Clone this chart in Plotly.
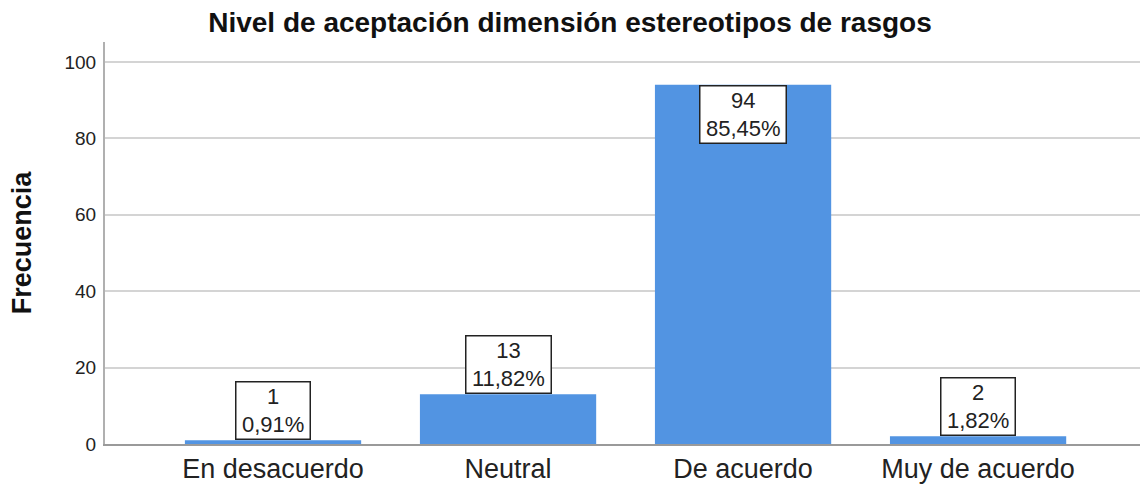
import plotly.graph_objects as go

categories = ["En desacuerdo", "Neutral", "De acuerdo", "Muy de acuerdo"]
counts = [1, 13, 94, 2]
percents = ["0,91%", "11,82%", "85,45%", "1,82%"]
y_ticks = [0, 20, 40, 60, 80, 100]

BAR_COLOR = "#5294E2"
FONT = "Liberation Sans, Arial, sans-serif"
TS = "&#8201;"  # thin space padding inside label boxes

fig = go.Figure()
fig.add_trace(go.Bar(
    x=categories, y=counts, marker=dict(color=BAR_COLOR, line=dict(width=0)),
    width=0.75, hoverinfo="skip",
))

for cat, c, p in zip(categories, counts, percents):
    inside = c > 50
    fig.add_annotation(
        x=cat, y=c, xref="x", yref="y",
        text=f"{TS}{c}{TS}<br>{TS}{p}{TS}", showarrow=False,
        yanchor="top" if inside else "bottom",
        font=dict(family=FONT, size=22, color="#222"),
        bgcolor="white", bordercolor="#222", borderwidth=1.5, borderpad=1,
        align="center",
    )

fig.update_layout(
    width=1140, height=485,
    margin=dict(l=105, r=0, t=42, b=41),
    paper_bgcolor="white", plot_bgcolor="white",
    showlegend=False,
    bargap=0.25,
    title=dict(text="<b>Nivel de aceptación dimensión estereotipos de rasgos</b>",
               x=0.5, xanchor="center", y=1 - 22 / 485, yanchor="middle",
               font=dict(family=FONT, size=28, color="#111")),
    xaxis=dict(
        type="category", range=[-0.715, 3.689], automargin=False,
        showline=True, linecolor="#9a9a9a", linewidth=2,
        showgrid=False, ticks="",
        tickfont=dict(family=FONT, size=27, color="#222"),
    ),
    yaxis=dict(
        range=[0, 105.2], tickvals=y_ticks, automargin=False,
        showline=True, linecolor="#b0b0b0", linewidth=2,
        showgrid=True, gridcolor="#d4d4d4", gridwidth=2,
        zeroline=False, ticks="", ticklabelstandoff=3,
        tickfont=dict(family=FONT, size=19, color="#222"),
        title=dict(text="<b>Frecuencia</b>", font=dict(family=FONT, size=27, color="#111"), standoff=25),
    ),
)

fig.write_html("out.html", config={"displayModeBar": False},
               post_script="document.body.style.margin='0';document.body.style.overflow='hidden';")
